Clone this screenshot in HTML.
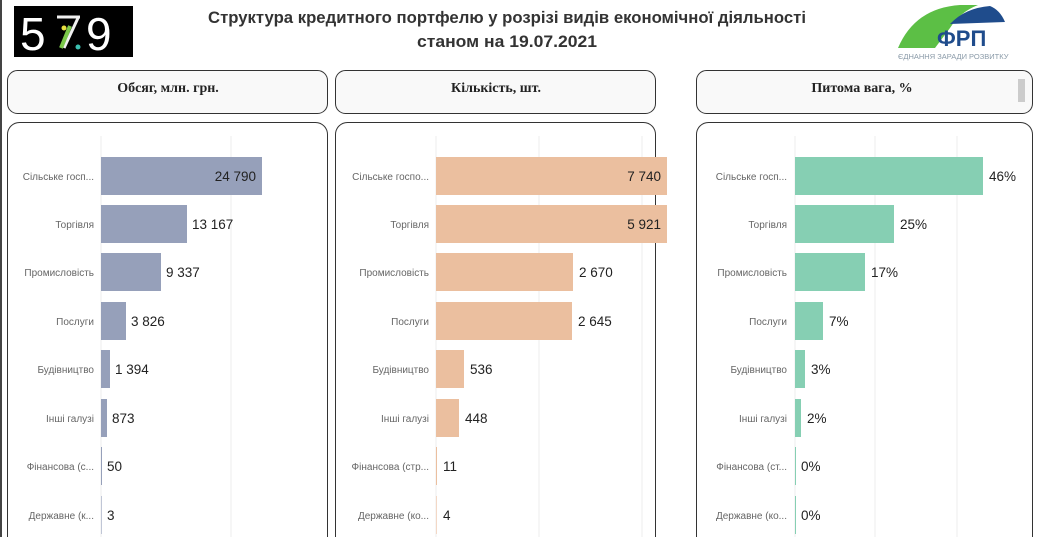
<!DOCTYPE html>
<html><head><meta charset="utf-8"><style>
html,body{margin:0;padding:0;background:#fff;}
svg{display:block;}
.lbl{font-family:"Liberation Sans",sans-serif;font-size:10px;fill:#666;text-anchor:end;}
.val{font-family:"Liberation Sans",sans-serif;font-size:13.5px;fill:#222;}
.hd{font-family:"Liberation Serif",serif;font-size:14px;font-weight:bold;fill:#222;text-anchor:middle;}
</style></head><body>
<svg width="1041" height="537" viewBox="0 0 1041 537" xmlns="http://www.w3.org/2000/svg">
<rect x="0" y="0" width="1041" height="537" fill="#fff"/>
<rect x="0" y="0" width="2" height="537" fill="#444"/>
<!-- 579 logo -->
<rect x="14" y="6" width="119" height="51" fill="#000"/>
<text x="20" y="50" font-family="Liberation Sans,sans-serif" font-size="46" fill="#fff">5</text>
<text x="86" y="50" font-family="Liberation Sans,sans-serif" font-size="46" fill="#fff">9</text>
<line x1="57" y1="17" x2="80" y2="17" stroke="#f0f0f0" stroke-width="3"/>
<line x1="78" y1="18" x2="64" y2="48" stroke="#f0f0f0" stroke-width="3"/>
<line x1="70" y1="26" x2="61" y2="48" stroke="#7bc84a" stroke-width="4"/>
<circle cx="64" cy="28" r="2.5" fill="#e8e040"/>
<circle cx="78" cy="47" r="2.5" fill="#3cc0b0"/>
<!-- title -->
<text x="507" y="23" text-anchor="middle" textLength="598" lengthAdjust="spacingAndGlyphs" font-family="Liberation Sans,sans-serif" font-weight="bold" font-size="17" fill="#333">Структура кредитного портфелю у розрізі видів економічної діяльності</text>
<text x="507" y="47" text-anchor="middle" textLength="180" lengthAdjust="spacingAndGlyphs" font-family="Liberation Sans,sans-serif" font-weight="bold" font-size="17" fill="#333">станом на 19.07.2021</text>
<!-- ФРП logo -->
<path d="M898 48 Q915 8 960 5 L978 5 Q960 12 950 28 L935 48 Z" fill="#5cbf45"/>
<path d="M950 24 Q965 8 990 6 Q1000 10 1005 22 Z" fill="#1f4c8c"/>
<text x="937" y="46" font-family="Liberation Sans,sans-serif" font-weight="bold" font-size="22" fill="#1f4c8c">ФРП</text>
<text x="898" y="59" font-family="Liberation Sans,sans-serif" font-size="7.5" fill="#8a9aa8">ЄДНАННЯ ЗАРАДИ РОЗВИТКУ</text>
<!-- headers -->
<rect x="7.5" y="70.5" width="320" height="43" rx="10" fill="#f9f9f9" stroke="#333"/>
<text class="hd" x="168" y="92">Обсяг, млн. грн.</text>
<rect x="335.5" y="70.5" width="320" height="43" rx="10" fill="#f9f9f9" stroke="#333"/>
<text class="hd" x="496" y="92">Кількість, шт.</text>
<rect x="696.5" y="70.5" width="336" height="43" rx="10" fill="#f9f9f9" stroke="#333"/>
<text class="hd" x="862" y="92">Питома вага, %</text>
<rect x="1018" y="79" width="7" height="23" fill="#ccc"/>
<!-- bodies -->
<rect x="7.5" y="122.5" width="320" height="440" rx="12" fill="#fff" stroke="#333"/>
<rect x="335.5" y="122.5" width="320" height="440" rx="12" fill="#fff" stroke="#333"/>
<rect x="696.5" y="122.5" width="336" height="440" rx="12" fill="#fff" stroke="#333"/>
<!-- gridlines -->
<g stroke="#eee" stroke-width="1">
<line x1="101" y1="136" x2="101" y2="537"/><line x1="231" y1="136" x2="231" y2="537"/>
<line x1="436" y1="136" x2="436" y2="537"/><line x1="539" y1="136" x2="539" y2="537"/><line x1="642" y1="136" x2="642" y2="537"/>
<line x1="795" y1="136" x2="795" y2="537"/><line x1="875" y1="136" x2="875" y2="537"/><line x1="957" y1="136" x2="957" y2="537"/>
</g>
<!-- panel 1 -->
<g fill="#96a0ba">
<rect x="101" y="157" width="161" height="38"/>
<rect x="101" y="205" width="86" height="38"/>
<rect x="101" y="253" width="60" height="38"/>
<rect x="101" y="302" width="25" height="38"/>
<rect x="101" y="350" width="9" height="38"/>
<rect x="101" y="399" width="6" height="38"/>
<rect x="101" y="447" width="1" height="38"/>
<rect x="101" y="496" width="0.6" height="38"/>
</g>
<text class="lbl" x="94" y="180">Сільське госп...</text>
<text class="lbl" x="94" y="228">Торгівля</text>
<text class="lbl" x="94" y="276">Промисловість</text>
<text class="lbl" x="94" y="325">Послуги</text>
<text class="lbl" x="94" y="373">Будівництво</text>
<text class="lbl" x="94" y="422">Інші галузі</text>
<text class="lbl" x="94" y="470">Фінансова (с...</text>
<text class="lbl" x="94" y="519">Державне (к...</text>
<text class="val" x="256" y="181" text-anchor="end">24 790</text>
<text class="val" x="192" y="229">13 167</text>
<text class="val" x="166" y="277">9 337</text>
<text class="val" x="131" y="326">3 826</text>
<text class="val" x="115" y="374">1 394</text>
<text class="val" x="112" y="423">873</text>
<text class="val" x="107" y="471">50</text>
<text class="val" x="107" y="520">3</text>
<!-- panel 2 -->
<g fill="#ebbf9f">
<rect x="436" y="157" width="231" height="38"/>
<rect x="436" y="205" width="231" height="38"/>
<rect x="436" y="253" width="137" height="38"/>
<rect x="436" y="302" width="136" height="38"/>
<rect x="436" y="350" width="28" height="38"/>
<rect x="436" y="399" width="23" height="38"/>
<rect x="436" y="447" width="1" height="38"/>
<rect x="436" y="496" width="0.6" height="38"/>
</g>
<text class="lbl" x="429" y="180">Сільське госпо...</text>
<text class="lbl" x="429" y="228">Торгівля</text>
<text class="lbl" x="429" y="276">Промисловість</text>
<text class="lbl" x="429" y="325">Послуги</text>
<text class="lbl" x="429" y="373">Будівництво</text>
<text class="lbl" x="429" y="422">Інші галузі</text>
<text class="lbl" x="429" y="470">Фінансова (стр...</text>
<text class="lbl" x="429" y="519">Державне (ко...</text>
<text class="val" x="661" y="181" text-anchor="end">7 740</text>
<text class="val" x="661" y="229" text-anchor="end">5 921</text>
<text class="val" x="579" y="277">2 670</text>
<text class="val" x="578" y="326">2 645</text>
<text class="val" x="470" y="374">536</text>
<text class="val" x="465" y="423">448</text>
<text class="val" x="443" y="471">11</text>
<text class="val" x="443" y="520">4</text>
<!-- panel 3 -->
<g fill="#86cfb3">
<rect x="795" y="157" width="188" height="38"/>
<rect x="795" y="205" width="99" height="38"/>
<rect x="795" y="253" width="70" height="38"/>
<rect x="795" y="302" width="28" height="38"/>
<rect x="795" y="350" width="10" height="38"/>
<rect x="795" y="399" width="6" height="38"/>
<rect x="795" y="447" width="1" height="38"/>
<rect x="795" y="496" width="1" height="38"/>
</g>
<text class="lbl" x="787" y="180">Сільське госп...</text>
<text class="lbl" x="787" y="228">Торгівля</text>
<text class="lbl" x="787" y="276">Промисловість</text>
<text class="lbl" x="787" y="325">Послуги</text>
<text class="lbl" x="787" y="373">Будівництво</text>
<text class="lbl" x="787" y="422">Інші галузі</text>
<text class="lbl" x="787" y="470">Фінансова (ст...</text>
<text class="lbl" x="787" y="519">Державне (ко...</text>
<text class="val" x="989" y="181">46%</text>
<text class="val" x="900" y="229">25%</text>
<text class="val" x="871" y="277">17%</text>
<text class="val" x="829" y="326">7%</text>
<text class="val" x="811" y="374">3%</text>
<text class="val" x="807" y="423">2%</text>
<text class="val" x="801" y="471">0%</text>
<text class="val" x="801" y="520">0%</text>
</svg>
</body></html>
